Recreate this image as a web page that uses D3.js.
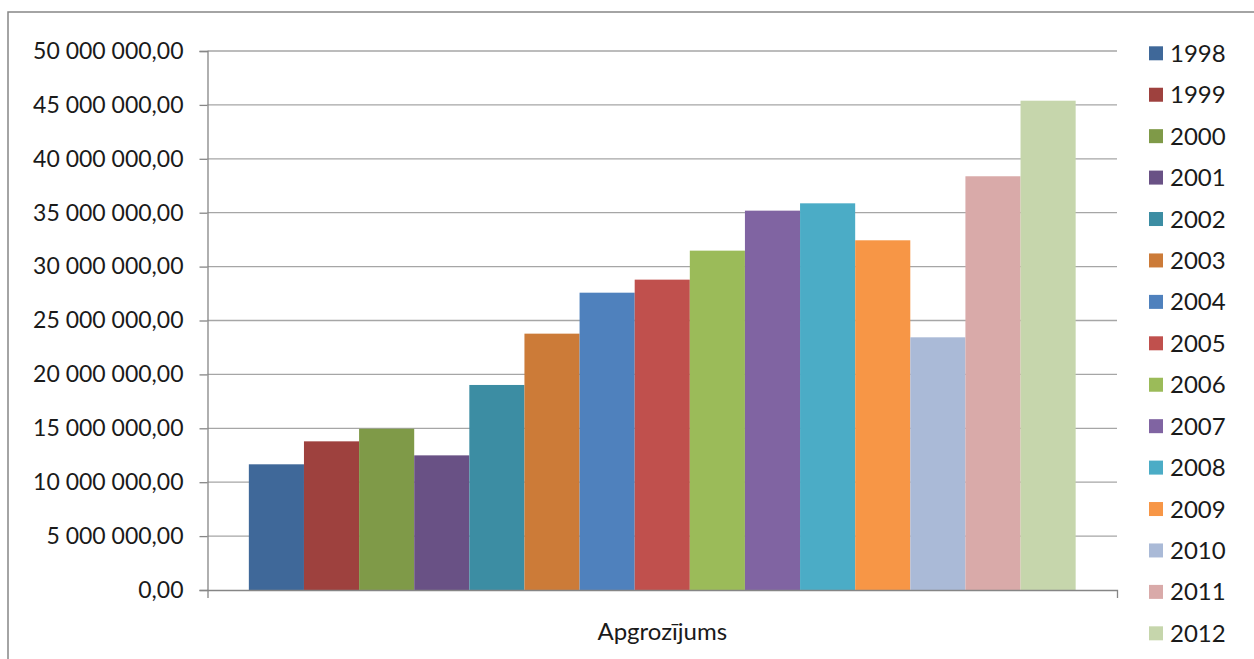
<!DOCTYPE html>
<html>
<head>
<meta charset="utf-8">
<script src="https://cdn.jsdelivr.net/npm/d3@7/dist/d3.min.js"></script>
<style>
  body { margin: 0; background: #fff; }
  text { font-family: Lato, "Open Sans", sans-serif; fill: #1a1a1a; }
</style>
</head>
<body>
<svg id="chart" width="1254" height="659"></svg>
<script>
var category = ["Apgrozījums"];
var years = ["1998", "1999", "2000", "2001", "2002", "2003", "2004", "2005",
  "2006", "2007", "2008", "2009", "2010", "2011", "2012"];
var values = [11660000, 13790000, 14960000, 12490000, 19020000, 23780000, 27580000, 28790000,
  31480000, 35190000, 35870000, 32440000, 23440000, 38380000, 45390000];
var colors = ["#3F6899", "#9E413E", "#7F9A48", "#695185", "#3C8DA3", "#CC7B38", "#4F81BD", "#C0504D",
  "#9BBB59", "#8064A2", "#4BACC6", "#F79646", "#AABAD7", "#D9AAA9", "#C6D6AC"];
var yTicks = [0, 5000000, 10000000, 15000000, 20000000, 25000000, 30000000, 35000000, 40000000, 45000000, 50000000];

var svg = d3.select("#chart");

// chart frame (runs off the right and bottom edges)
svg.append("rect")
  .attr("x", 8).attr("y", 12)
  .attr("width", 1300).attr("height", 700)
  .attr("fill", "none")
  .attr("stroke", "#878787")
  .attr("stroke-width", 1.5);

var plotLeft = 207.5, plotRight = 1117, plotTop = 51, plotBottom = 590;

var y = d3.scaleLinear().domain([0, 50000000]).range([plotBottom, plotTop]);
var x0 = d3.scaleBand().domain(category).range([plotLeft, plotRight]).paddingInner(0).paddingOuter(0.05);
var x1 = d3.scaleBand().domain(years).range([0, x0.bandwidth()]).padding(0);

function fmt(v) {
  return d3.format(",.2f")(v).replace(/,/g, " ").replace(".", ",");
}

// gridlines
svg.append("g").selectAll("line")
  .data(yTicks.slice(1))
  .enter().append("line")
  .attr("x1", plotLeft).attr("x2", plotRight)
  .attr("y1", function(d) { return y(d); })
  .attr("y2", function(d) { return y(d); })
  .attr("stroke", "#a6a6a6")
  .attr("stroke-width", 1.3);

// bars
svg.append("g").selectAll("rect")
  .data(values)
  .enter().append("rect")
  .attr("x", function(d, i) { return x0(category[0]) + x1(years[i]); })
  .attr("y", function(d) { return y(d); })
  .attr("width", x1.bandwidth())
  .attr("height", function(d) { return plotBottom - y(d); })
  .attr("fill", function(d, i) { return colors[i]; });

// Y axis
var yAxis = d3.axisLeft(y).tickValues(yTicks).tickSize(8).tickPadding(16).tickFormat(fmt);
var gy = svg.append("g").attr("transform", "translate(" + plotLeft + ",0)").call(yAxis);
gy.select(".domain").attr("stroke", "#868686").attr("stroke-width", 1.3);
gy.selectAll(".tick line").attr("stroke", "#868686").attr("stroke-width", 1.3);
gy.selectAll(".tick text").style("font-size", "23px").attr("fill", "#1a1a1a");

// X axis
var xAxis = d3.axisBottom(x0).tickSize(0).tickSizeOuter(8).tickPadding(33);
var gx = svg.append("g").attr("transform", "translate(0," + plotBottom + ")").call(xAxis);
gx.select(".domain").attr("stroke", "#868686").attr("stroke-width", 1.3);
gx.selectAll(".tick text").style("font-size", "24px").attr("fill", "#1a1a1a");

// legend
var legend = svg.append("g").selectAll("g")
  .data(years)
  .enter().append("g")
  .attr("transform", function(d, i) { return "translate(1149," + (53.3 + i * 41.43) + ")"; });
legend.append("rect")
  .attr("x", 0).attr("y", -7)
  .attr("width", 14).attr("height", 14)
  .attr("fill", function(d, i) { return colors[i]; });
legend.append("text")
  .attr("x", 21).attr("y", 8.5)
  .style("font-size", "24px")
  .text(function(d) { return d; });
</script>
</body>
</html>
